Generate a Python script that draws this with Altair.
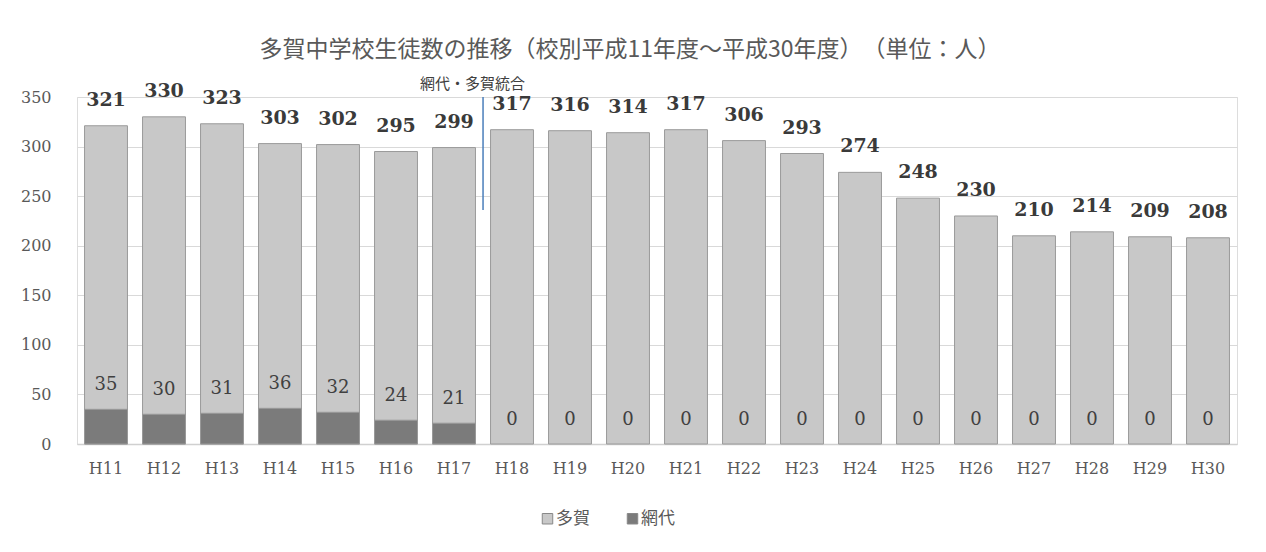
import altair as alt
import pandas as pd

categories = ["H11", "H12", "H13", "H14", "H15", "H16", "H17", "H18", "H19", "H20",
              "H21", "H22", "H23", "H24", "H25", "H26", "H27", "H28", "H29", "H30"]
taga = [321, 330, 323, 303, 302, 295, 299, 317, 316, 314,
        317, 306, 293, 274, 248, 230, 210, 214, 209, 208]
ajiro = [35, 30, 31, 36, 32, 24, 21, 0, 0, 0,
         0, 0, 0, 0, 0, 0, 0, 0, 0, 0]
schools = ["多賀", "網代"]
colors = ["#c8c8c8", "#7b7b7b"]
merge_year = "H18"
merge_label = "網代・多賀統合"
merge_span = [350, 236]

rows = []
for c, v in zip(categories, taga):
    rows.append({"year": c, "school": "多賀", "value": v})
for c, v in zip(categories, ajiro):
    rows.append({"year": c, "school": "網代", "value": v})
df = pd.DataFrame(rows)
ann = pd.DataFrame({"year": [merge_year], "y": [merge_span[0]], "y2": [merge_span[1]], "label": [merge_label]})

xenc = alt.X("year:N", sort=categories, title=None,
             scale=alt.Scale(paddingInner=0.26, paddingOuter=0.13),
             axis=alt.Axis(labelAngle=0, labelFont="DejaVu Serif", labelFontSize=16,
                           labelColor="#595959", labelPadding=16, ticks=False,
                           domainColor="#d0d0d0", domainWidth=1.5, grid=False))
yenc = alt.Y("value:Q", title=None, stack=None,
             scale=alt.Scale(domain=[0, 350]),
             axis=alt.Axis(values=list(range(0, 351, 50)), labelFont="DejaVu Serif",
                           labelFontSize=16, labelColor="#595959", labelPadding=26,
                           ticks=False, domain=False, gridColor="#d9d9d9", gridWidth=1))

base = alt.Chart(df)

bars = base.mark_bar(stroke="#9a9a9a", strokeWidth=1).encode(
    x=xenc,
    y=yenc,
    strokeOpacity=alt.condition(alt.datum.value > 0, alt.value(1), alt.value(0)),
    color=alt.Color("school:N", sort=schools,
                    scale=alt.Scale(domain=schools, range=colors),
                    legend=alt.Legend(title=None, orient="none", direction="horizontal",
                                      legendX=462, legendY=413, symbolType="square",
                                      symbolSize=110, symbolStrokeColor="#888888",
                                      symbolStrokeWidth=1,
                                      labelFont="Noto Sans CJK JP", labelFontSize=17,
                                      labelColor="#595959", columnPadding=34,
                                      symbolOffset=0, labelOffset=0)),
)

taga_text = base.transform_filter(alt.datum.school == "多賀").mark_text(
    font="DejaVu Serif", fontSize=19, fontWeight="bold", color="#3a3a3a",
    baseline="middle", dy=-26
).encode(x=alt.X("year:N", sort=categories), y="value:Q", text="value:Q")

ajiro_text = base.transform_filter(alt.datum.school == "網代").mark_text(
    font="DejaVu Serif", fontSize=18, color="#404040",
    baseline="middle", dy=-24
).encode(x=alt.X("year:N", sort=categories), y="value:Q", text="value:Q")

rule = alt.Chart(ann).mark_rule(color="#4a7ebb", strokeWidth=1.5, xOffset=-7.5).encode(
    x=alt.X("year:N", sort=categories, bandPosition=0),
    y="y:Q", y2="y2:Q"
)
rule_text = alt.Chart(ann).mark_text(
    font="Noto Sans CJK JP", fontSize=15, color="#404040", baseline="bottom",
    dy=-5, dx=-18
).encode(x=alt.X("year:N", sort=categories, bandPosition=0), y="y:Q", text="label:N")

chart = alt.layer(bars, taga_text, ajiro_text, rule, rule_text).properties(
    width=1160, height=347,
    autosize=alt.AutoSizeParams(type="none"),
    padding={"left": 69, "top": 89, "right": 21, "bottom": 100},
    title=alt.TitleParams("多賀中学校生徒数の推移（校別平成11年度～平成30年度）　（単位：人）",
                          font="Noto Sans CJK JP", fontSize=23, fontWeight="normal",
                          color="#595959", anchor="middle", offset=15, dx=-27),
).configure_view(stroke=None).configure(background="white")

chart.save("out.html", embed_options={"renderer": "svg", "actions": False})
